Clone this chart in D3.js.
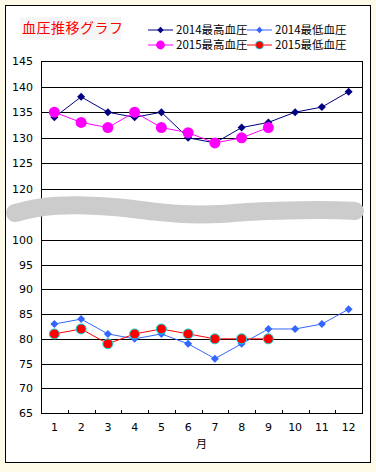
<!DOCTYPE html>
<html>
<head>
<meta charset="utf-8">
<script src="https://cdn.jsdelivr.net/npm/d3@7"></script>
<style>
  html, body { margin: 0; padding: 0; background: #fdfbe8; }
  svg { display: block; }
  text { font-family: "Noto Sans CJK JP", "DejaVu Sans", sans-serif; }
</style>
</head>
<body>
<div id="wrapper"></div>
<script>
// months along the bottom
const months = [1, 2, 3, 4, 5, 6, 7, 8, 9, 10, 11, 12]

// series values
const high2014 = [134, 138, 135, 134, 135, 130, 129, 132, 133, 135, 136, 139]
const low2014  = [83, 84, 81, 80, 81, 79, 76, 79, 82, 82, 83, 86]
const high2015 = [135, 133, 132, 135, 132, 131, 129, 130, 132]
const low2015  = [81, 82, 79, 81, 82, 81, 80, 80, 80]

// y tick labels (the axis skips 105-115)
const yTicks = [65, 70, 75, 80, 85, 90, 95, 100, 120, 125, 130, 135, 140, 145]

const seriesNames = ["2014最高血圧", "2014最低血圧", "2015最高血圧", "2015最低血圧"]

function drawChart() {
  let dimensions = {
    width: 376,
    height: 472,
    margin: { top: 61, right: 14, bottom: 59, left: 41 },
  }
  dimensions.boundedWidth = dimensions.width - dimensions.margin.left - dimensions.margin.right
  dimensions.boundedHeight = dimensions.height - dimensions.margin.top - dimensions.margin.bottom

  const wrapper = d3.select("#wrapper").append("svg")
    .attr("width", dimensions.width)
    .attr("height", dimensions.height)

  // outer frame
  wrapper.append("rect")
    .attr("x", 5.5).attr("y", 5.5)
    .attr("width", 365).attr("height", 457)
    .attr("fill", "#fff")
    .attr("stroke", "#000")

  // title
  wrapper.append("rect")
    .attr("x", 20).attr("y", 17).attr("width", 101).attr("height", 23)
    .attr("fill", "#f6f6f6")
  wrapper.append("text")
    .attr("x", 22).attr("y", 33)
    .attr("fill", "#ff0000")
    .style("font-size", "14px")
    .style("letter-spacing", "0.5px")
    .text("血圧推移グラフ")

  const bounds = wrapper.append("g")
    .attr("transform", `translate(${dimensions.margin.left},${dimensions.margin.top})`)

  // broken y axis: 65-100 and 120-145 share the same step, small gap between
  const yScale = d3.scaleLinear()
    .domain([65, 100, 120, 145])
    .range([dimensions.boundedHeight, 179, 128, 0])

  const xScale = d3.scaleBand()
    .domain(months)
    .range([0, dimensions.boundedWidth])
  const xCenter = m => xScale(m) + xScale.bandwidth() / 2

  // gridlines
  bounds.append("g")
    .selectAll("line")
    .data(yTicks.filter(d => d !== 65 && d !== 145))
    .join("line")
      .attr("x1", 0).attr("x2", dimensions.boundedWidth)
      .attr("y1", d => Math.round(yScale(d)) + 0.5)
      .attr("y2", d => Math.round(yScale(d)) + 0.5)
      .attr("stroke", "#000")

  // plot border
  bounds.append("rect")
    .attr("x", 0.5).attr("y", 0.5)
    .attr("width", dimensions.boundedWidth)
    .attr("height", dimensions.boundedHeight)
    .attr("fill", "none")
    .attr("stroke", "#000")

  // y labels
  const yAxisGenerator = d3.axisLeft(yScale)
    .tickValues(yTicks)
    .tickSize(0)
    .tickPadding(8)
  const yAxis = bounds.append("g").call(yAxisGenerator)
  yAxis.select(".domain").remove()
  yAxis.selectAll("text")
    .style("font-size", "11px")
    .style("font-family", "'DejaVu Sans', sans-serif")
    .attr("fill", "#000")

  // x axis, ticks between categories pointing in
  const xAxis = bounds.append("g")
    .attr("transform", `translate(0,${dimensions.boundedHeight})`)
  xAxis.selectAll("line")
    .data(months.slice(1))
    .join("line")
      .attr("x1", d => Math.round(xScale(d)) + 0.5)
      .attr("x2", d => Math.round(xScale(d)) + 0.5)
      .attr("y1", 0).attr("y2", -3)
      .attr("stroke", "#000")
  xAxis.selectAll("text")
    .data(months)
    .join("text")
      .attr("x", d => xCenter(d))
      .attr("y", 18)
      .attr("text-anchor", "middle")
      .style("font-size", "11px")
      .style("font-family", "'DejaVu Sans', sans-serif")
      .text(d => d)
  xAxis.append("text")
    .attr("x", xCenter(6) + xScale.bandwidth() / 2)
    .attr("y", 35)
    .attr("text-anchor", "middle")
    .style("font-size", "11px")
    .text("月")

  // gray smudge covering the axis break (pixel offsets inside the plot)
  const smudge = [[-26, 152], [-6, 147], [14, 144.5], [44, 144], [79, 146], [114, 151],
                  [149, 154], [184, 153], [219, 150], [259, 149], [299, 149], [314, 150]]
  bounds.append("path")
    .attr("d", d3.line().curve(d3.curveBasis)(smudge))
    .attr("fill", "none")
    .attr("stroke", "#cccccc")
    .attr("stroke-width", 18)
    .attr("stroke-linecap", "round")

  const series = [
    { values: high2014, color: "#000080", shape: "diamond" },
    { values: low2014, color: "#3366ff", shape: "diamond" },
    { values: high2015, color: "#ff00ff", shape: "circle" },
    { values: low2015, color: "#ff0000", shape: "circle", outline: "#00e0e0" },
  ]

  const lineGenerator = d3.line()
    .x((d, i) => xCenter(months[i]))
    .y(d => yScale(d))

  function drawMarker(sel, s) {
    if (s.shape === "diamond") {
      sel.append("path")
        .attr("d", "M0,-4L4,0L0,4L-4,0Z")
        .attr("fill", s.color)
    } else {
      sel.append("circle")
        .attr("r", s.outline ? 5 : 5.5)
        .attr("fill", s.color)
        .attr("stroke", s.outline || "none")
        .attr("stroke-width", 1)
    }
  }

  series.forEach(s => {
    bounds.append("path")
      .attr("d", lineGenerator(s.values))
      .attr("fill", "none")
      .attr("stroke", s.color)
      .attr("stroke-width", 1)
    s.values.forEach((v, i) => {
      const g = bounds.append("g")
        .attr("transform", `translate(${xCenter(months[i])},${yScale(v)})`)
      drawMarker(g, s)
    })
  })

  // legend
  const legend = wrapper.append("g")
  series.forEach((s, i) => {
    const col = i % 2, row = Math.floor(i / 2)
    const x0 = 148 + col * 99, y0 = 30 + row * 15
    legend.append("line")
      .attr("x1", x0).attr("x2", x0 + 25)
      .attr("y1", y0).attr("y2", y0)
      .attr("stroke", s.color)
    const g = legend.append("g").attr("transform", `translate(${x0 + 12.5},${y0}) scale(0.8)`)
    drawMarker(g, s)
    legend.append("text")
      .attr("x", x0 + 28).attr("y", y0 + 4)
      .style("font-size", "11.5px")
      .text(seriesNames[i])
  })
}

drawChart()
</script>
</body>
</html>
